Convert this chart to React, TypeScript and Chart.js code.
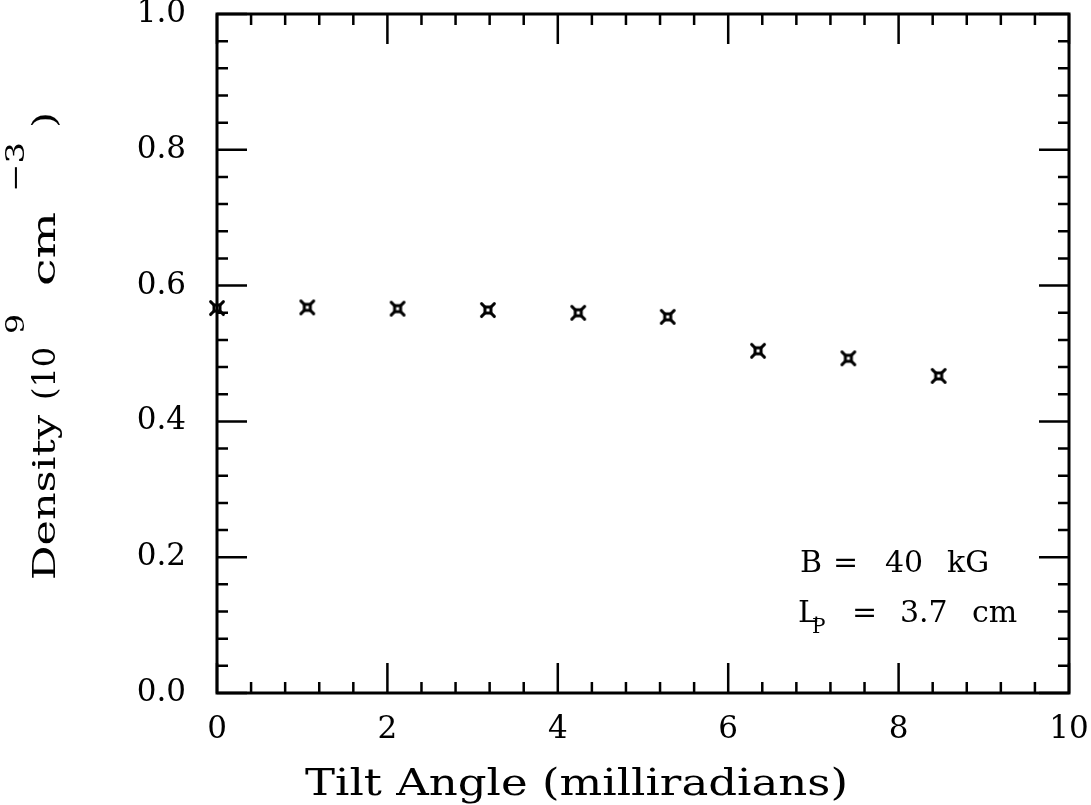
import React, { useEffect, useRef } from "react";
import { Chart, registerables } from "chart.js";

Chart.register(...registerables);

// Measured density versus tilt angle
const tiltAngles = [0, 1.06, 2.12, 3.18, 4.24, 5.29, 6.35, 7.41, 8.47];
const densities = [0.567, 0.568, 0.566, 0.564, 0.56, 0.554, 0.504, 0.493, 0.467];

// Axis tick labels
const xTickLabels = ["0", "2", "4", "6", "8", "10"];
const yTickLabels = ["0.0", "0.2", "0.4", "0.6", "0.8", "1.0"];

const FONT = "'DejaVu Serif', 'Liberation Serif', serif";

// Hollow square with diagonal spurs at its corners
function makeMarker(): HTMLCanvasElement {
  const c = document.createElement("canvas");
  c.width = 18;
  c.height = 18;
  const g = c.getContext("2d")!;
  g.strokeStyle = "#000";
  g.lineWidth = 3;
  g.lineCap = "round";
  const m = 9;
  const s = 3;
  const o = 6.4;
  g.strokeRect(m - s, m - s, 2 * s, 2 * s);
  g.beginPath();
  for (const [dx, dy] of [[-1, -1], [1, -1], [1, 1], [-1, 1]]) {
    g.moveTo(m + dx * s, m + dy * s);
    g.lineTo(m + dx * o, m + dy * o);
  }
  g.stroke();
  return c;
}

// Text pieces: [text, font size, baseline shift, start along the line, length]
type Piece = [string, number, number, number, number];

// Draws each piece stretched along the writing direction to its own span
function wideText(
  ctx: CanvasRenderingContext2D,
  pieces: Piece[],
  x: number,
  y: number,
  angle: number
) {
  ctx.save();
  ctx.translate(x, y);
  ctx.rotate(angle);
  for (const [t, size, dy, u, len] of pieces) {
    ctx.font = `${size}px ${FONT}`;
    const w = ctx.measureText(t).width;
    ctx.save();
    ctx.translate(u, dy);
    ctx.scale(len / w, 1);
    ctx.fillText(t, 0, 0);
    ctx.restore();
  }
  ctx.restore();
}

// Box frame with inward major/minor ticks on all four sides, plus labels
const framePlugin = {
  id: "frame",
  beforeDatasetsDraw(chart: any) {
    const { ctx, chartArea: a, scales } = chart;
    const xs = scales.x;
    const ys = scales.y;
    ctx.save();
    ctx.strokeStyle = "#000";
    ctx.lineCap = "butt";
    ctx.lineWidth = 2.5;
    ctx.beginPath();
    for (let i = 0; i <= 25; i++) {
      const px = xs.getPixelForValue(i * 0.4);
      const len = i % 5 === 0 ? 30 : 11;
      ctx.moveTo(px, a.bottom);
      ctx.lineTo(px, a.bottom - len);
      ctx.moveTo(px, a.top);
      ctx.lineTo(px, a.top + len);
    }
    for (let i = 0; i <= 25; i++) {
      const py = ys.getPixelForValue(i * 0.04);
      const len = i % 5 === 0 ? 30 : 11;
      ctx.moveTo(a.left, py);
      ctx.lineTo(a.left + len, py);
      ctx.moveTo(a.right, py);
      ctx.lineTo(a.right - len, py);
    }
    ctx.stroke();
    ctx.lineWidth = 3;
    ctx.strokeRect(a.left, a.top, a.right - a.left, a.bottom - a.top);
    ctx.restore();
  },
  afterDraw(chart: any) {
    const { ctx, chartArea: a } = chart;
    ctx.save();
    ctx.fillStyle = "#000";
    ctx.textAlign = "left";
    ctx.textBaseline = "alphabetic";

    // x-axis title
    wideText(ctx, [["Tilt Angle (milliradians)", 38, 0, 0, 543]], 305, 795, 0);

    // Rotated y-axis title with superscripts
    wideText(
      ctx,
      [
        ["Density", 32, 0, 0, 165],
        ["(10", 32, 0, 180, 53],
        ["9", 26, -31, 246, 20],
        ["cm", 32, 0, 294, 74],
        ["\u22123", 26, -31, 388, 50],
        [")", 32, 0, 452, 16],
      ],
      55,
      580,
      -Math.PI / 2
    );

    // Run conditions
    ctx.font = `30px ${FONT}`;
    const l = a.left;
    const y1 = 572;
    const y2 = 622;
    ctx.fillText("B", l + 583, y1);
    ctx.fillText("=", l + 616, y1);
    ctx.fillText("40", l + 668, y1);
    ctx.fillText("kG", l + 730, y1);
    ctx.fillText("L", l + 581, y2);
    ctx.font = `20px ${FONT}`;
    ctx.fillText("P", l + 595, y2 + 11);
    ctx.font = `30px ${FONT}`;
    ctx.fillText("=", l + 635, y2);
    ctx.fillText("3.7", l + 683, y2);
    ctx.fillText("cm", l + 755, y2);
    ctx.restore();
  },
};

function noScalePadding(s: any) {
  s.paddingTop = 0;
  s.paddingBottom = 0;
  s.paddingLeft = 0;
  s.paddingRight = 0;
}

export default function App() {
  const ref = useRef<HTMLCanvasElement | null>(null);

  useEffect(() => {
    document.body.style.margin = "0";
    const canvas = ref.current!;
    const chart = new Chart(canvas, {
      type: "scatter",
      data: {
        datasets: [
          {
            data: tiltAngles.map((t, i) => ({ x: t, y: densities[i] })),
            pointStyle: makeMarker() as any,
            pointRadius: 9,
            borderColor: "#000",
            backgroundColor: "#000",
            clip: false as any,
          },
        ],
      },
      options: {
        responsive: false,
        animation: false,
        devicePixelRatio: 1,
        layout: { padding: { top: 14, right: 22, left: 0, bottom: 0 } },
        plugins: {
          legend: { display: false },
          tooltip: { enabled: false },
        },
        scales: {
          x: {
            type: "linear",
            min: 0,
            max: 10,
            grid: { display: false, drawTicks: false },
            border: { display: false },
            ticks: {
              stepSize: 2,
              padding: 18,
              color: "#000",
              font: { family: FONT, size: 31 },
              callback: (_v: any, i: number) => xTickLabels[i],
            },
            afterFit: (s: any) => {
              s.height = 112;
              noScalePadding(s);
            },
          },
          y: {
            type: "linear",
            min: 0,
            max: 1,
            grid: { display: false, drawTicks: false },
            border: { display: false },
            ticks: {
              stepSize: 0.2,
              padding: 31,
              color: "#000",
              font: { family: FONT, size: 31 },
              callback: (_v: any, i: number) => yTickLabels[i],
            },
            afterFit: (s: any) => {
              s.width = 217;
              noScalePadding(s);
            },
          },
        },
      },
      plugins: [framePlugin],
    });
    return () => chart.destroy();
  }, []);

  return (
    <div style={{ position: "absolute", left: 0, top: 0, width: 1091, height: 805, background: "#fff" }}>
      <canvas ref={ref} width={1091} height={805} />
    </div>
  );
}
